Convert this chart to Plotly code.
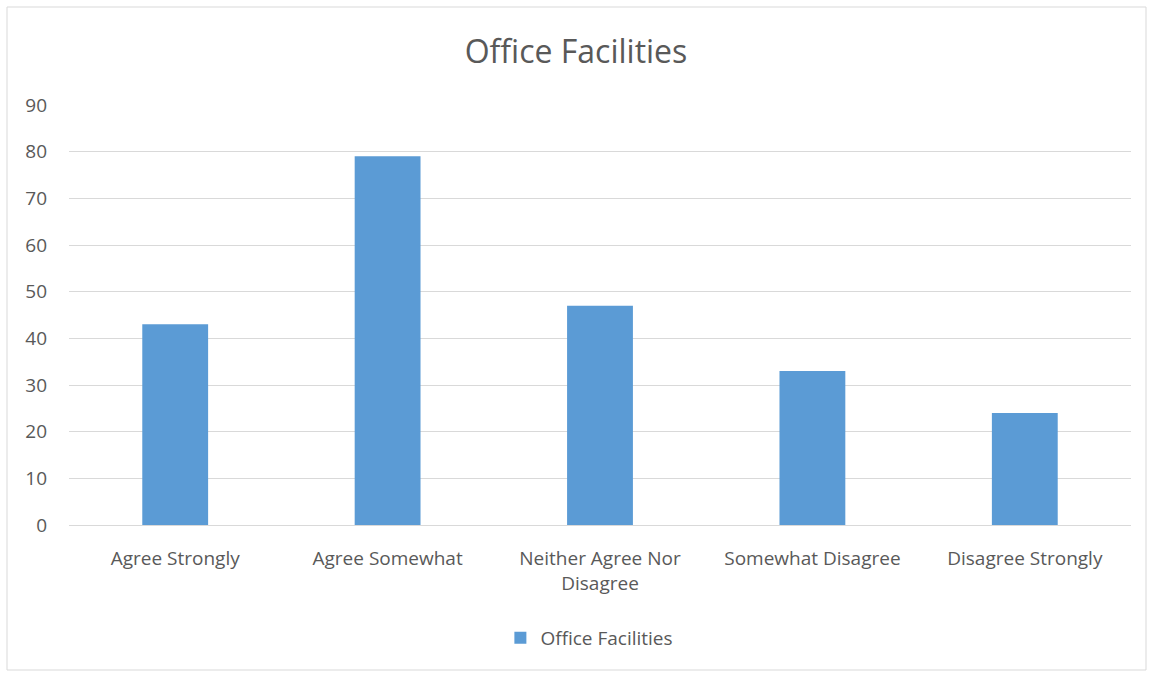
import plotly.graph_objects as go

categories = ["Agree Strongly", "Agree Somewhat", "Neither Agree Nor Disagree",
              "Somewhat Disagree", "Disagree Strongly"]
tick_labels = ["Agree Strongly", "Agree Somewhat", "Neither Agree Nor<br>Disagree",
               "Somewhat Disagree", "Disagree Strongly"]
values = [43, 79, 47, 33, 24]
series_name = "Office Facilities"
y_ticks = [0, 10, 20, 30, 40, 50, 60, 70, 80, 90]

font_family = "'Open Sans', Lato, sans-serif"
text_color = "#595959"
grid_color = "#d9d9d9"

fig = go.Figure()
fig.add_trace(go.Bar(
    x=categories, y=values, name=series_name,
    marker=dict(color="#5b9bd5", line=dict(width=0)),
    showlegend=True,
))

fig.update_layout(
    width=1152, height=673,
    margin=dict(l=69, r=21, t=105, b=148),
    paper_bgcolor="white", plot_bgcolor="white",
    bargap=0.69,
    font=dict(family=font_family, color=text_color, size=18),
    title=dict(text="Office Facilities", x=0.5, xanchor="center",
               y=1 - 52 / 673, yanchor="middle",
               font=dict(size=32, color=text_color, family=font_family)),
    legend=dict(orientation="h", x=0.49, xanchor="center", y=-0.269, yanchor="middle",
                font=dict(size=19, color=text_color), itemwidth=30),
    xaxis=dict(tickmode="array", tickvals=categories, ticktext=tick_labels,
               showgrid=False, showline=True, linecolor=grid_color, linewidth=1,
               ticks="", ticklabelstandoff=16,
               tickfont=dict(size=19, color=text_color)),
    yaxis=dict(range=[0, 90], tickvals=y_ticks, showgrid=True, gridcolor=grid_color,
               gridwidth=1, zeroline=False, showline=False, ticks="",
               ticklabelstandoff=21,
               tickfont=dict(size=19, color=text_color)),
    shapes=[dict(type="rect", xref="paper", yref="paper",
                 x0=(7 - 69) / 1062, x1=(1146 - 69) / 1062,
                 y0=(525 - 670) / 420, y1=(525 - 7) / 420,
                 line=dict(color="#d9d9d9", width=1), fillcolor="rgba(0,0,0,0)",
                 layer="below")],
)

fig.write_html("out.html")
